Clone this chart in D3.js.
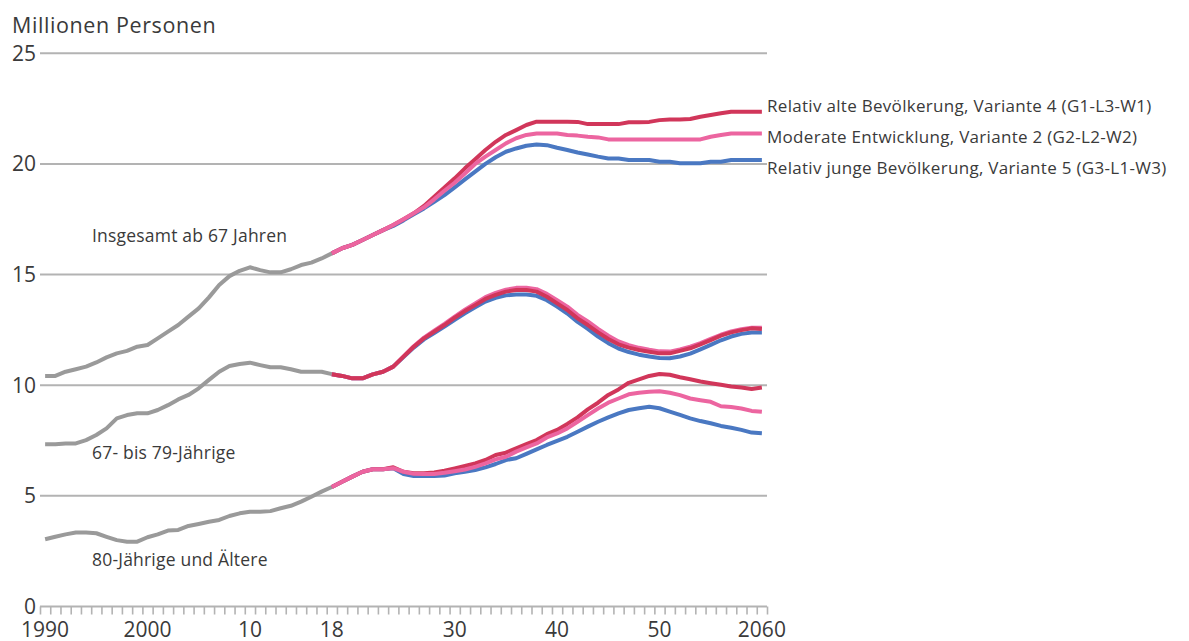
<!DOCTYPE html>
<html>
<head>
<meta charset="utf-8">
<script src="https://cdn.jsdelivr.net/npm/d3@7"></script>
<style>
  html, body { margin: 0; padding: 0; background: #fff; }
  svg { display: block; font-family: "Open Sans", "Noto Sans", sans-serif; }
</style>
</head>
<body>
<svg id="chart" width="1189" height="641"></svg>
<script>
// Years
const histYears = [1990,1991,1992,1993,1994,1995,1996,1997,1998,1999,2000,2001,2002,2003,2004,2005,2006,2007,2008,2009,2010,2011,2012,2013,2014,2015,2016,2017,2018];
const projYears = [2018,2019,2020,2021,2022,2023,2024,2025,2026,2027,2028,2029,2030,2031,2032,2033,2034,2035,2036,2037,2038,2039,2040,2041,2042,2043,2044,2045,2046,2047,2048,2049,2050,2051,2052,2053,2054,2055,2056,2057,2058,2059,2060];

// Observed values (million persons)
const totalHist = [10.42,10.42,10.61,10.72,10.84,11.03,11.26,11.44,11.55,11.74,11.82,12.12,12.42,12.72,13.1,13.47,13.97,14.53,14.93,15.17,15.33,15.2,15.1,15.1,15.24,15.43,15.54,15.73,15.96];
const agedHist  = [7.33,7.33,7.37,7.37,7.52,7.75,8.05,8.5,8.65,8.73,8.73,8.88,9.1,9.36,9.56,9.86,10.24,10.61,10.87,10.96,11.02,10.91,10.81,10.81,10.72,10.61,10.61,10.61,10.5];
const oldHist   = [3.04,3.15,3.26,3.34,3.34,3.31,3.15,3.0,2.93,2.93,3.13,3.26,3.43,3.46,3.64,3.73,3.83,3.91,4.09,4.21,4.28,4.28,4.31,4.44,4.55,4.74,4.96,5.19,5.4];

// Projections: total aged 67+
const totalV4 = [15.96,16.19,16.34,16.56,16.79,17.01,17.24,17.5,17.77,18.1,18.52,18.94,19.35,19.8,20.21,20.63,21.0,21.31,21.53,21.76,21.91,21.91,21.91,21.91,21.9,21.8,21.8,21.8,21.8,21.88,21.88,21.9,21.98,22.01,22.01,22.03,22.13,22.21,22.29,22.36,22.36,22.36,22.36];
const totalV2 = [15.96,16.19,16.34,16.56,16.79,17.01,17.24,17.5,17.77,18.04,18.4,18.79,19.15,19.57,20.0,20.33,20.63,20.93,21.16,21.31,21.38,21.38,21.38,21.31,21.28,21.23,21.2,21.11,21.11,21.11,21.11,21.11,21.11,21.11,21.11,21.11,21.11,21.23,21.31,21.38,21.38,21.38,21.38];
const totalV5 = [15.96,16.19,16.34,16.56,16.79,17.01,17.2,17.45,17.72,17.99,18.29,18.59,18.94,19.3,19.65,20.0,20.3,20.55,20.7,20.82,20.88,20.85,20.73,20.63,20.52,20.43,20.33,20.25,20.25,20.18,20.18,20.18,20.1,20.1,20.03,20.03,20.03,20.1,20.1,20.18,20.18,20.18,20.18];

// Projections: aged 67 to 79
const agedV4 = [10.5,10.42,10.31,10.31,10.49,10.61,10.84,11.29,11.74,12.12,12.42,12.72,13.05,13.35,13.62,13.9,14.08,14.23,14.3,14.3,14.23,14.0,13.7,13.4,13.02,12.72,12.39,12.09,11.85,11.7,11.59,11.51,11.44,11.44,11.55,11.67,11.85,12.04,12.24,12.39,12.49,12.57,12.54];
const agedV2 = [10.5,10.42,10.31,10.31,10.49,10.61,10.84,11.3,11.76,12.15,12.46,12.77,13.1,13.41,13.69,13.98,14.17,14.32,14.4,14.4,14.34,14.13,13.84,13.55,13.18,12.88,12.55,12.24,11.98,11.81,11.69,11.6,11.53,11.52,11.62,11.74,11.9,12.09,12.28,12.43,12.53,12.6,12.6];
const agedV5 = [10.5,10.42,10.31,10.31,10.49,10.61,10.84,11.27,11.7,12.07,12.36,12.65,12.96,13.25,13.52,13.78,13.95,14.06,14.1,14.1,14.04,13.84,13.55,13.24,12.86,12.55,12.2,11.9,11.66,11.5,11.38,11.3,11.23,11.22,11.3,11.43,11.62,11.82,12.03,12.2,12.32,12.38,12.38];

// Projections: aged 80 and over
const oldV4 = [5.4,5.64,5.87,6.09,6.2,6.2,6.29,6.09,6.02,6.02,6.06,6.14,6.24,6.35,6.47,6.62,6.85,6.95,7.15,7.34,7.52,7.79,7.98,8.25,8.55,8.91,9.21,9.56,9.81,10.11,10.26,10.42,10.51,10.47,10.36,10.27,10.17,10.09,10.02,9.94,9.9,9.83,9.9];
const oldV2 = [5.4,5.64,5.87,6.09,6.2,6.2,6.25,6.09,6.0,5.99,5.99,6.04,6.11,6.19,6.31,6.47,6.65,6.77,7.0,7.19,7.37,7.64,7.82,8.05,8.35,8.65,8.95,9.21,9.4,9.59,9.66,9.7,9.73,9.66,9.55,9.4,9.32,9.25,9.05,9.02,8.95,8.84,8.8];
const oldV5 = [5.4,5.64,5.87,6.09,6.2,6.2,6.25,5.99,5.9,5.9,5.9,5.92,6.02,6.09,6.17,6.29,6.44,6.62,6.7,6.9,7.1,7.3,7.48,7.67,7.9,8.13,8.35,8.55,8.73,8.88,8.96,9.03,8.96,8.81,8.66,8.5,8.38,8.28,8.16,8.08,7.98,7.86,7.83];

// Axis labels and texts
const yTicks = [0, 5, 10, 15, 20, 25];
const xLabelYears = [1990, 2000, 2010, 2018, 2030, 2040, 2050, 2060];
const xLabelTexts = ["1990", "2000", "10", "18", "30", "40", "50", "2060"];
const variantNames = [
  "Relativ alte Bevölkerung, Variante 4 (G1-L3-W1)",
  "Moderate Entwicklung, Variante 2 (G2-L2-W2)",
  "Relativ junge Bevölkerung, Variante 5 (G3-L1-W3)"
];
const groupLabels = ["Insgesamt ab 67 Jahren", "67- bis 79-Jährige", "80-Jährige und Ältere"];

const colors = { hist: "#9a9a9a", v4: "#d1365a", v2: "#ec65a0", v5: "#4a78c2", grid: "#b3b3b3", text: "#3a3a3a" };

const svg = d3.select("#chart");
const x = d3.scaleLinear().domain([1989.5, 2060.5]).range([40, 767]);
const y = d3.scaleLinear().domain([0, 25]).range([606.5, 53.3]);

// Horizontal gridlines
svg.append("g").selectAll("line")
  .data(yTicks.filter(d => d > 0))
  .join("line")
  .attr("x1", x.range()[0]).attr("x2", x.range()[1])
  .attr("y1", d => y(d)).attr("y2", d => y(d))
  .attr("stroke", colors.grid).attr("stroke-width", 2);

// Y tick labels
svg.append("g").selectAll("text")
  .data(yTicks)
  .join("text")
  .attr("x", 36).attr("y", d => y(d) + 7.5)
  .attr("text-anchor", "end")
  .attr("font-size", 21)
  .attr("fill", colors.text)
  .text(d => d);

// Unit label
svg.append("text")
  .attr("x", 12).attr("y", 33)
  .attr("font-size", 21.5)
  .attr("letter-spacing", 0.6)
  .attr("fill", colors.text)
  .text("Millionen Personen");

// X axis: baseline with one tick per year boundary
const boundaries = d3.range(1989.5, 2061, 1);
const xAxis = d3.axisBottom(x)
  .tickValues(boundaries)
  .tickSize(8)
  .tickFormat("");
const gx = svg.append("g").attr("transform", `translate(0,${y(0)})`).call(xAxis);
gx.select(".domain").attr("stroke", colors.grid).attr("stroke-width", 2).attr("d", `M${x.range()[0]},0H${x.range()[1]}`);
gx.selectAll(".tick line").attr("stroke", colors.grid).attr("stroke-width", 1.6);

svg.append("g").selectAll("text")
  .data(xLabelYears)
  .join("text")
  .attr("x", d => x(d)).attr("y", 637)
  .attr("text-anchor", "middle")
  .attr("font-size", 21)
  .attr("fill", colors.text)
  .text((d, i) => xLabelTexts[i]);

// Lines
const line = d3.line().x(d => x(d[0])).y(d => y(d[1])).curve(d3.curveLinear);
const pairs = (years, vals) => years.map((yr, i) => [yr, vals[i]]);

const gLines = svg.append("g").attr("fill", "none").attr("stroke-width", 4).attr("stroke-linejoin", "round");

function drawSeries(years, vals, color) {
  gLines.append("path").attr("d", line(pairs(years, vals))).attr("stroke", color);
}

[totalHist, agedHist, oldHist].forEach(v => drawSeries(histYears, v, colors.hist));

// total: blue, red, pink on top
drawSeries(projYears, totalV5, colors.v5);
drawSeries(projYears, totalV4, colors.v4);
drawSeries(projYears, totalV2, colors.v2);
// 67-79: blue, pink, red on top
drawSeries(projYears, agedV5, colors.v5);
drawSeries(projYears, agedV2, colors.v2);
drawSeries(projYears, agedV4, colors.v4);
// 80+: blue, red, pink on top
drawSeries(projYears, oldV5, colors.v5);
drawSeries(projYears, oldV4, colors.v4);
drawSeries(projYears, oldV2, colors.v2);

// Group labels
const groupPos = [[92, 242], [92, 459], [92, 566]];
svg.append("g").selectAll("text")
  .data(groupLabels)
  .join("text")
  .attr("x", (d, i) => groupPos[i][0]).attr("y", (d, i) => groupPos[i][1])
  .attr("font-size", 17.5)
  .attr("letter-spacing", 0.2)
  .attr("fill", colors.text)
  .text(d => d);

// Variant labels at the line ends
const endVals = [totalV4[totalV4.length - 1], totalV2[totalV2.length - 1], totalV5[totalV5.length - 1]];
svg.append("g").selectAll("text")
  .data(variantNames)
  .join("text")
  .attr("x", 767)
  .attr("y", (d, i) => y(endVals[i]) + [0.5, 9.5, 14][i])
  .attr("font-size", 17)
  .attr("letter-spacing", 0.3)
  .attr("fill", colors.text)
  .text(d => d);
</script>
</body>
</html>
